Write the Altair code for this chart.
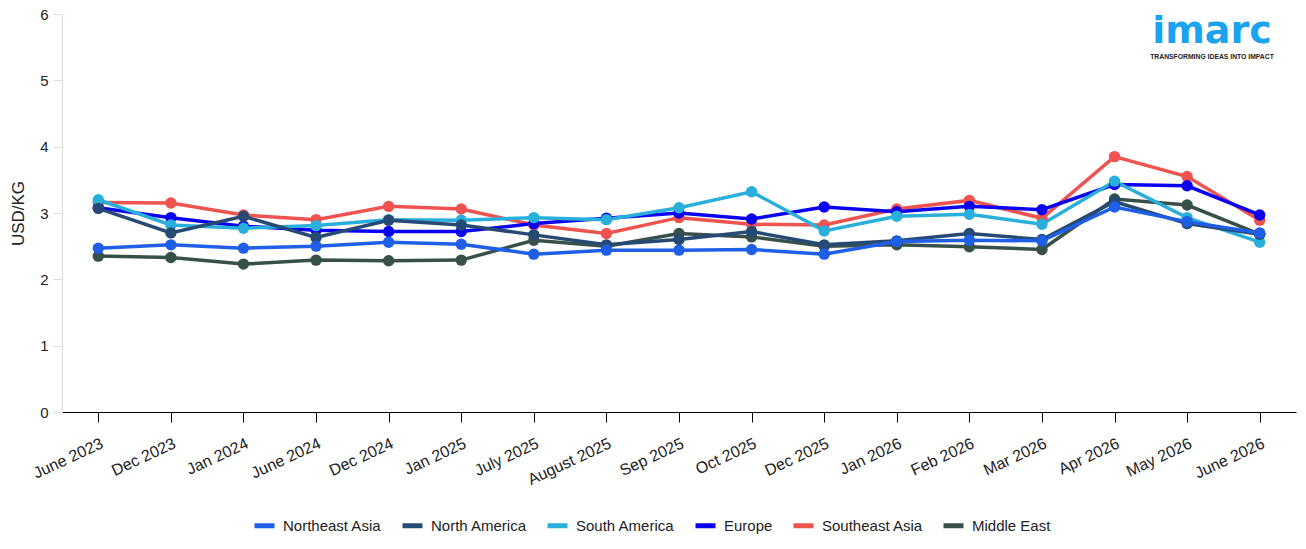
import altair as alt
import pandas as pd

months = ["June 2023", "Dec 2023", "Jan 2024", "June 2024", "Dec 2024", "Jan 2025",
          "July 2025", "August 2025", "Sep 2025", "Oct 2025", "Dec 2025", "Jan 2026",
          "Feb 2026", "Mar 2026", "Apr 2026", "May 2026", "June 2026"]

northeast_asia = [2.47, 2.52, 2.47, 2.50, 2.56, 2.53, 2.38, 2.44, 2.44, 2.45, 2.38, 2.57, 2.59, 2.58, 3.09, 2.87, 2.70]
north_america = [3.07, 2.70, 2.95, 2.63, 2.89, 2.82, 2.67, 2.52, 2.60, 2.72, 2.52, 2.58, 2.69, 2.60, 3.17, 2.84, 2.68]
south_america = [3.20, 2.82, 2.77, 2.81, 2.90, 2.89, 2.93, 2.90, 3.08, 3.32, 2.73, 2.95, 2.98, 2.83, 3.48, 2.93, 2.56]
europe = [3.08, 2.93, 2.80, 2.74, 2.72, 2.72, 2.84, 2.92, 3.00, 2.91, 3.09, 3.02, 3.10, 3.05, 3.43, 3.41, 2.97]
southeast_asia = [3.16, 3.15, 2.97, 2.90, 3.10, 3.06, 2.82, 2.69, 2.93, 2.83, 2.82, 3.06, 3.19, 2.92, 3.85, 3.55, 2.89]
middle_east = [2.35, 2.33, 2.23, 2.29, 2.28, 2.29, 2.59, 2.50, 2.69, 2.64, 2.50, 2.52, 2.49, 2.45, 3.21, 3.12, 2.68]

series_names = ["Northeast Asia", "North America", "South America", "Europe", "Southeast Asia", "Middle East"]
series_values = [northeast_asia, north_america, south_america, europe, southeast_asia, middle_east]
series_colors = ["#1f5fe8", "#274a74", "#29afdc", "#0a00f2", "#ef5350", "#37504a"]

rows = []
# draw order: Middle East at bottom, Northeast Asia on top
for name, vals in reversed(list(zip(series_names, series_values))):
    for m, v in zip(months, vals):
        rows.append({"Month": m, "Region": name, "Price": v})
df = pd.DataFrame(rows)

FONT = "Liberation Sans"

color = alt.Color(
    "Region:N",
    scale=alt.Scale(domain=series_names, range=series_colors),
    legend=alt.Legend(
        title=None,
        orient="none",
        direction="horizontal",
        legendX=190,
        legendY=499,
        symbolType="stroke",
        symbolStrokeWidth=5,
        symbolSize=400,
        labelFont=FONT,
        labelFontSize=15,
        labelColor="#222222",
        columnPadding=10,
        labelOffset=6,
    ),
)

x = alt.X(
    "Month:N",
    sort=months,
    scale=alt.Scale(type="point", padding=0.5),
    axis=alt.Axis(
        title=None,
        labelAngle=335,
        labelAlign="right",
        labelBaseline="top",
        labelFont=FONT,
        labelFontSize=16,
        labelColor="#222222",
        labelPadding=13,
        domainColor="#000000",
        tickColor="#000000",
        tickSize=10,
        grid=False,
    ),
)

y = alt.Y(
    "Price:Q",
    scale=alt.Scale(domain=[0, 6]),
    axis=alt.Axis(
        title="USD/KG",
        titleFont=FONT,
        titleFontSize=17,
        titleFontWeight="normal",
        titleColor="#222222",
        titlePadding=12,
        labelFont=FONT,
        labelFontSize=15,
        labelColor="#222222",
        labelPadding=5,
        values=[0, 1, 2, 3, 4, 5, 6],
        domainColor="#dddddd",
        tickColor="#dddddd",
        tickSize=9,
        grid=False,
    ),
)

base = alt.Chart(df)
lines = base.mark_line(strokeWidth=3.5).encode(x=x, y=y, color=color, detail="Region:N")
points = base.mark_circle(size=130, opacity=1).encode(
    x=x, y=y,
    color=alt.Color("Region:N", scale=alt.Scale(domain=series_names, range=series_colors), legend=None),
)

logo_df = pd.DataFrame({"t": ["imarc"]})
logo = alt.Chart(logo_df).mark_text(
    font="DejaVu Sans", fontSize=38, fontWeight="bold", color="#1aa3ef", align="center", baseline="alphabetic"
).encode(x=alt.value(1150), y=alt.value(29), text="t:N")
tag_df = pd.DataFrame({"t": ["TRANSFORMING IDEAS INTO IMPACT"]})
tag = alt.Chart(tag_df).mark_text(
    font=FONT, fontSize=6.8, fontWeight="bold", color="#222222", align="center", baseline="alphabetic"
).encode(x=alt.value(1150), y=alt.value(44.5), text="t:N")

chart = alt.layer(lines, points, logo, tag).properties(
    width=1234,
    height=398,
    background="#ffffff",
    autosize=alt.AutoSizeParams(type="none"),
    padding={"left": 62, "top": 14, "right": 10, "bottom": 137},
).configure_view(stroke="transparent", strokeWidth=0)

chart.save("out.html", embed_options={"renderer": "svg", "actions": False})
